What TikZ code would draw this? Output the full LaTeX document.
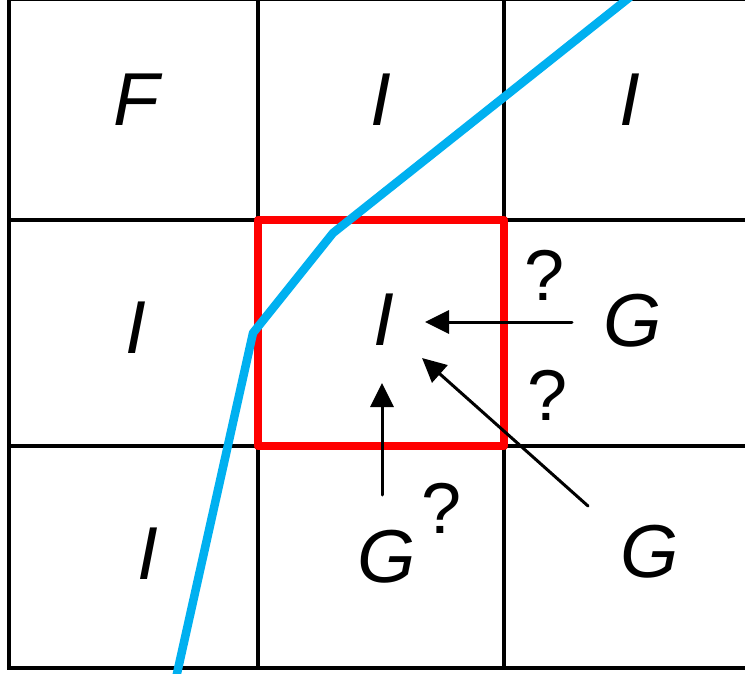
\documentclass[tikz,border=0pt]{standalone}
\usepackage{fontspec}
\setmainfont{Liberation Sans}
\usetikzlibrary{arrows.meta}
\definecolor{ciano}{RGB}{0,176,240}
\tikzset{
  lettera/.style={inner sep=0pt, font=\fontsize{75}{80}\selectfont\itshape},
  domanda/.style={inner sep=0pt, font=\fontsize{72}{80}\selectfont},
  freccia/.style={line width=3pt, -{Triangle[length=24pt,width=23pt]}}
}
\begin{document}
\begin{tikzpicture}[x=1pt, y=-1pt, line cap=round, line join=round]
        \useasboundingbox (0,0) rectangle (745,674);
        \clip (0,0) rectangle (745,674);
        % Griglia
        \draw[line width=4pt, line cap=butt, line join=miter] (9,-1) rectangle (760,668);
        \draw[line width=3.5pt] (258,-1) -- (258,668);
        \draw[line width=3.5pt] (504,-1) -- (504,668);
        \draw[line width=3.5pt] (9,220) -- (760,220);
        \draw[line width=3.5pt] (9,446) -- (760,446);
        % Cella corrente
        \draw[red, line width=8.5pt] (258,220) rectangle (504,446);
        % Interfaccia
        \draw[ciano, line width=8.5pt] (630,-3) -- (333,233) -- (253,333) -- (176,678);
        % Etichette delle celle
        \node[lettera] (f11) at (136,100) {F};
        \node[lettera] (i12) at (381,100) {I};
        \node[lettera] (i13) at (630,100) {I};
        \node[lettera] (i21) at (136,328) {I};
        \node[lettera] (i22) at (384,320) {I};
        \node[lettera] (g23) at (633,321) {G};
        \node[lettera] (i31) at (148,554) {I};
        \node[lettera] (g32) at (387,557) {G};
        \node[lettera] (g33) at (650,552) {G};
        % Punti di domanda
        \node[domanda] (q1) at (545,275) {?};
        \node[domanda] (q2) at (548,395) {?};
        \node[domanda] (q3) at (442,508) {?};
        % Frecce
        \coordinate (a1) at (572,322);
        \coordinate (b1) at (425,322);
        \coordinate (a2) at (382,495);
        \coordinate (b2) at (382,383);
        \coordinate (a3) at (588,506);
        \coordinate (b3) at (422,358);
        \draw[freccia] (a1) -- (b1);
        \draw[freccia] (a2) -- (b2);
        \draw[freccia] (a3) -- (b3);
\end{tikzpicture}
\end{document}
